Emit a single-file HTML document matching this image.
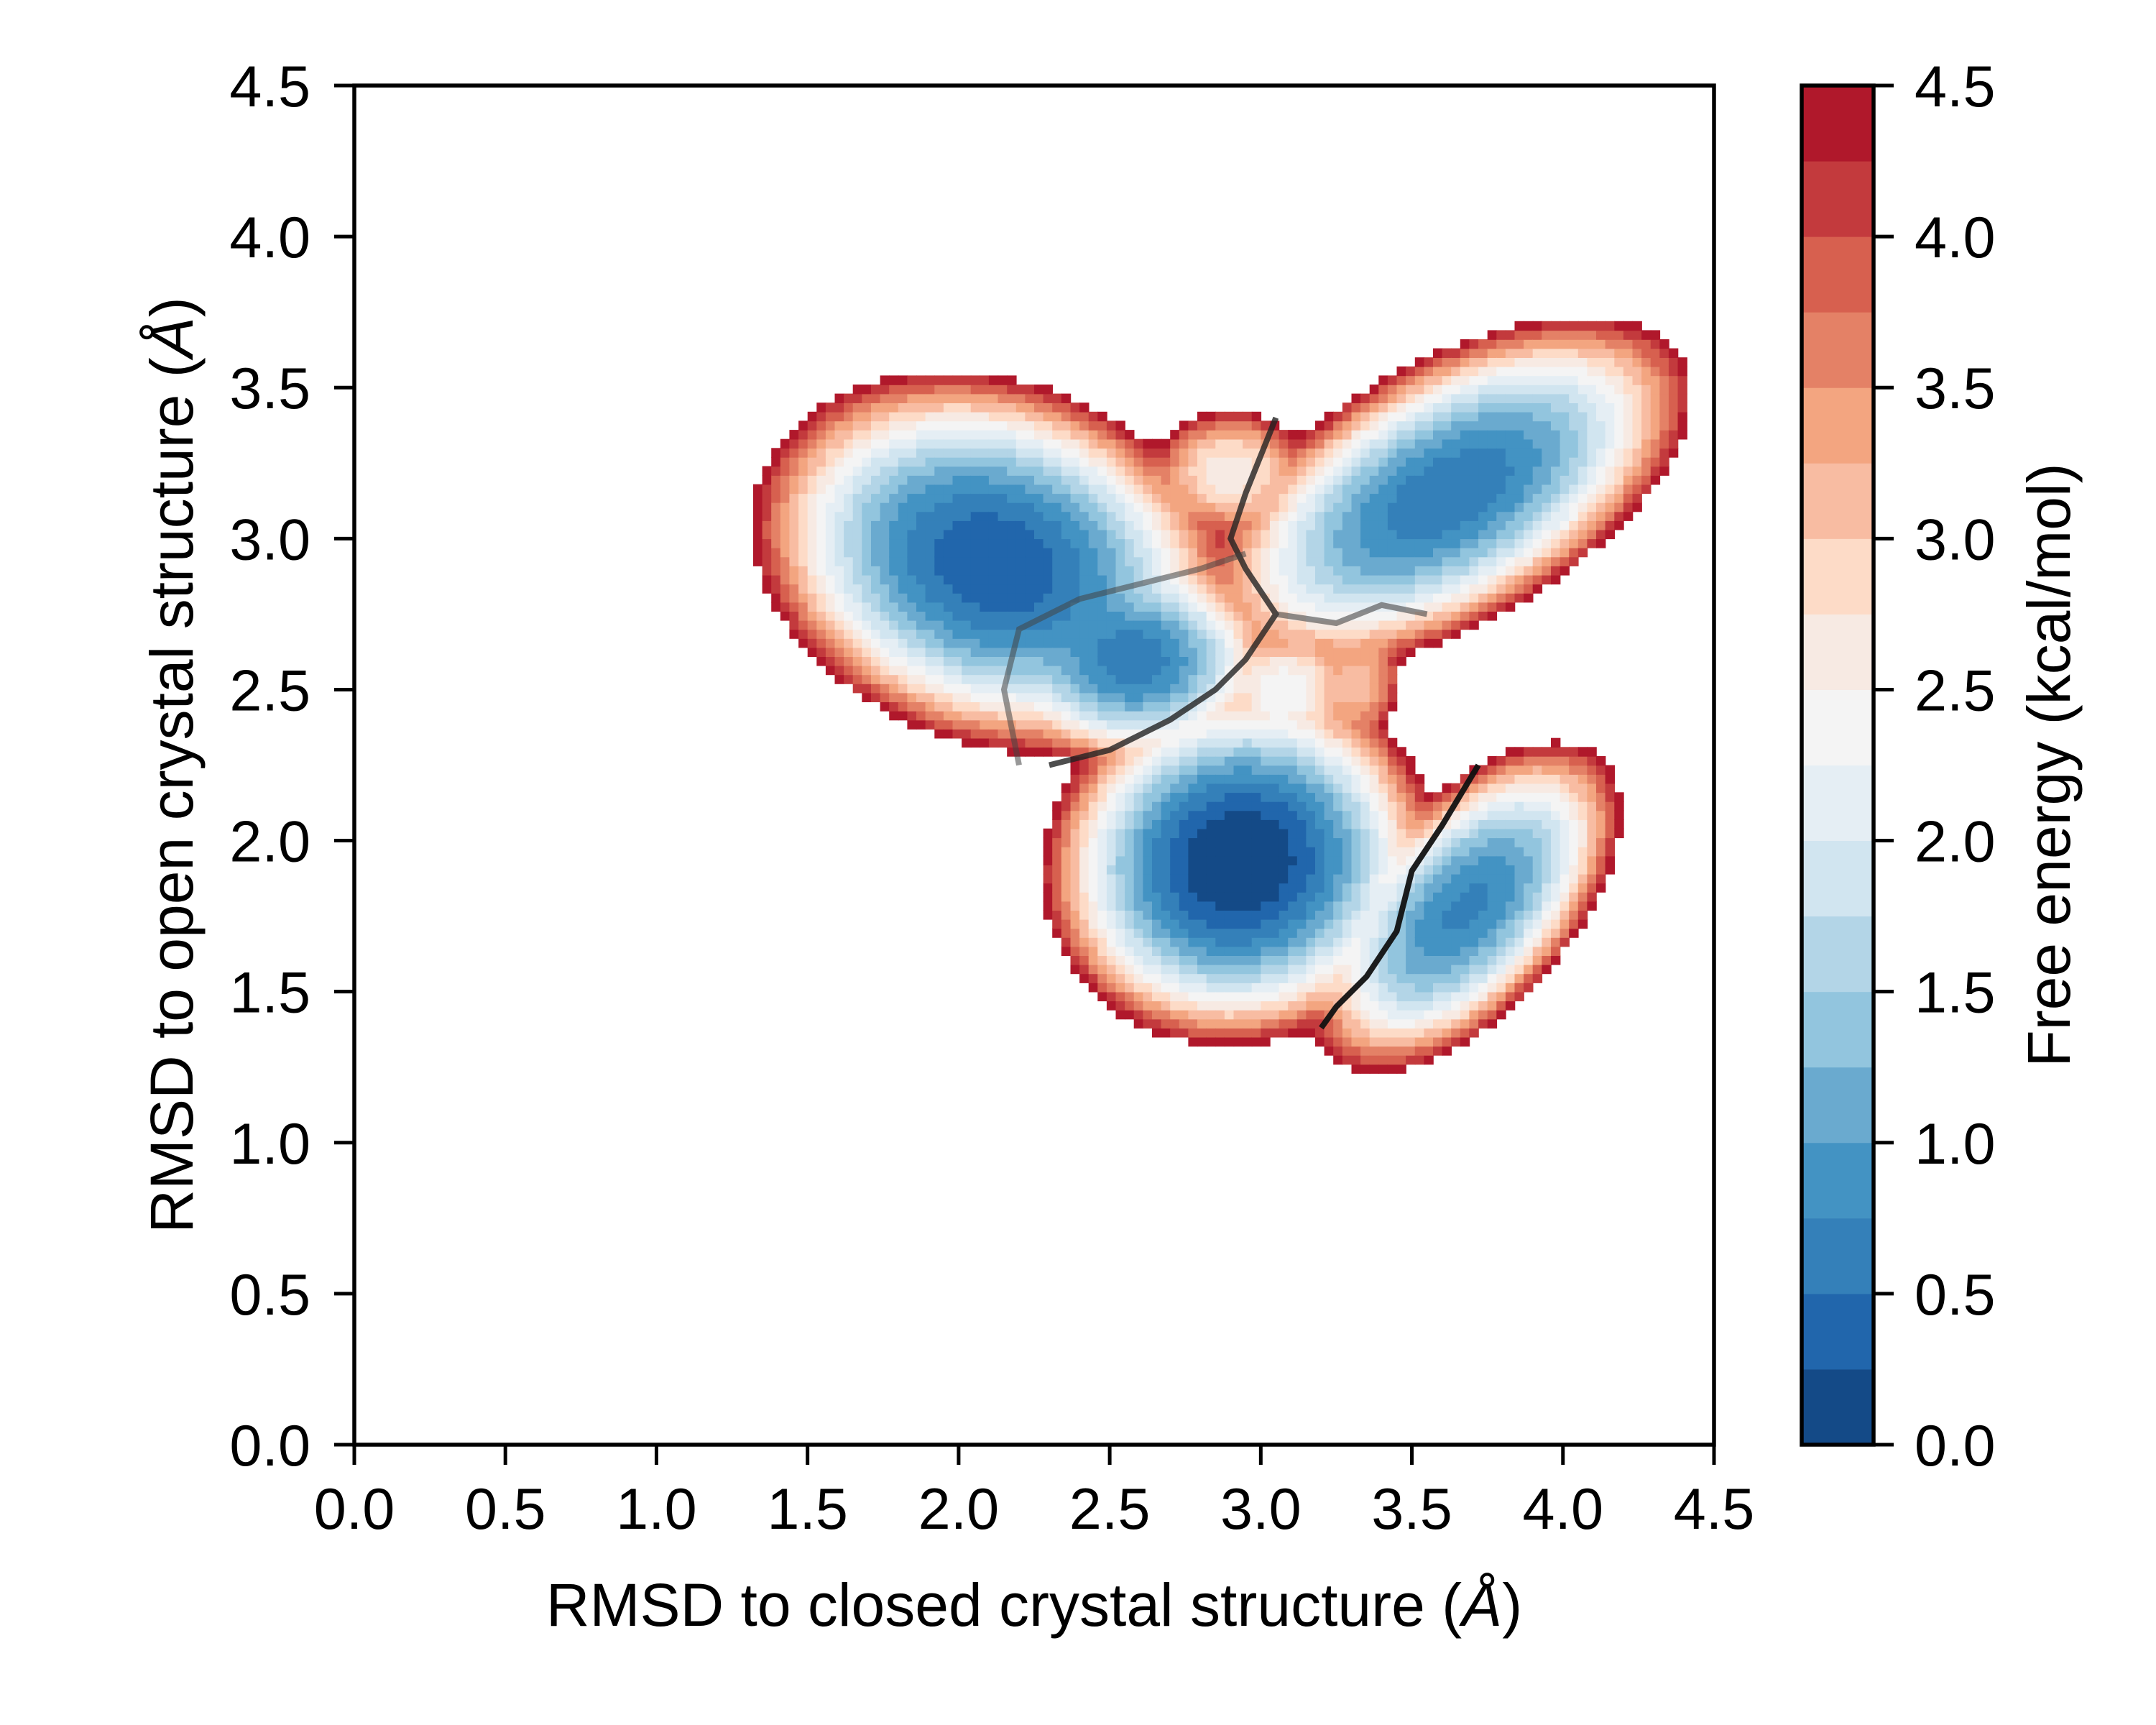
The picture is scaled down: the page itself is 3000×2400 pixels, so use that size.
<!DOCTYPE html>
<html><head><meta charset="utf-8"><style>
html,body{margin:0;padding:0;background:#fff}
svg{display:block;font-family:"Liberation Sans",Arial,sans-serif}
</style></head><body>
<svg id="chart" width="3000" height="2400" viewBox="0 0 3000 2400">
<g id="cells"></g>
<g id="bounds"></g>
<g id="axes"></g>
<g id="cbar"></g>
</svg>
<script>
// ---- data ----
const wellX     = [2.93, 2.12, 2.58, 3.62, 3.68, 2.90, 3.32, 3.08];
const wellY     = [1.93, 2.92, 2.60, 3.15, 1.78, 3.22, 2.52, 2.50];
const wellDepth = [0.00, 0.30, 0.60, 0.55, 0.70, 2.60, 3.10, 2.30];
const wellMajor = [0.66, 0.85, 0.50, 0.95, 0.72, 0.38, 0.32, 0.32];
const wellMinor = [0.60, 0.62, 0.38, 0.46, 0.37, 0.30, 0.24, 0.28];
const wellAngle = [20, -20, 0, 30, 48, 0, 80, 0];
const levels = [0,0.25,0.5,0.75,1,1.25,1.5,1.75,2,2.25,2.5,2.75,3,3.25,3.5,3.75,4,4.25,4.5];
const levelColors = ["#144a87","#2166ac","#3480b9","#4393c3","#6aaacf","#92c5de","#b3d5e7","#d1e5f0","#e5eef4","#f4f4f4","#f7eae3","#fddbc7","#f8bca2","#f3a580","#e48166","#d7604f","#c33a3d","#b0182b"];
const tickValues = [0,0.5,1,1.5,2,2.5,3,3.5,4,4.5];
const tickLabels = ["0.0","0.5","1.0","1.5","2.0","2.5","3.0","3.5","4.0","4.5"];
const boundary1X = [3.20,3.25,3.35,3.45,3.50,3.60,3.72];
const boundary1Y = [1.38,1.45,1.55,1.70,1.90,2.05,2.25];
const boundary2X = [2.30,2.50,2.70,2.85,2.95,3.05,2.95,2.90,2.95,3.05];
const boundary2Y = [2.25,2.30,2.40,2.50,2.60,2.75,2.90,3.00,3.15,3.40];
const boundary3X = [3.05,3.25,3.40,3.55];
const boundary3Y = [2.75,2.72,2.78,2.75];
const boundary4X = [2.20,2.15,2.20,2.40,2.60,2.80,2.95];
const boundary4Y = [2.25,2.50,2.70,2.80,2.85,2.90,2.95];

// ---- scales ----
const L=493,R=2385,T=119,B=2010;
const xS=v=>L+v/4.5*(R-L);
const yS=v=>B-v/4.5*(B-T);
const NS="http://www.w3.org/2000/svg";
function mk(tag,attrs,parent){const e=document.createElementNS(NS,tag);for(const k in attrs)e.setAttribute(k,attrs[k]);parent.appendChild(e);return e;}

function energy(x,y){
  let s=0;const Tk=0.4;
  for(let i=0;i<wellX.length;i++){
    const a=wellAngle[i]*Math.PI/180;
    const dx=x-wellX[i],dy=y-wellY[i];
    const u=(dx*Math.cos(a)+dy*Math.sin(a))/wellMajor[i];
    const w=(-dx*Math.sin(a)+dy*Math.cos(a))/wellMinor[i];
    const q=u*u+w*w;
    const f=wellDepth[i]+4.5*Math.pow(q,1.1);
    s+=Math.exp(-f/Tk);
  }
  return -Tk*Math.log(s+1e-300);
}
const cells=document.getElementById('cells');
const step=0.03;
for(let gx=0;gx<4.5;gx+=step){
  for(let gy=0;gy<4.5;gy+=step){
    const f=energy(gx+step/2,gy+step/2);
    if(f>=levels[levels.length-1])continue;
    let k=0;while(k<levelColors.length-1&&f>=levels[k+1])k++;
    const r=mk('rect',{x:xS(gx).toFixed(1),y:yS(gy+step).toFixed(1),width:(xS(step)-xS(0)+0.8).toFixed(1),height:(yS(0)-yS(step)+0.8).toFixed(1),fill:levelColors[k]},cells);
    
    
  }
}
const bounds=document.getElementById('bounds');
[[boundary1X,boundary1Y,"#111",0.95],[boundary2X,boundary2Y,"#222",0.8],[boundary3X,boundary3Y,"#444",0.6],[boundary4X,boundary4Y,"#444",0.55]].forEach((b,i)=>{
  const pts=b[0].map((v,j)=>xS(v).toFixed(1)+","+yS(b[1][j]).toFixed(1)).join(" ");
  const p=mk('polyline',{points:pts,fill:"none",stroke:b[2],"stroke-width":8,"stroke-opacity":b[3]},bounds);
  
  
});

// ---- axes ----
const ax=document.getElementById('axes');
const frame=mk('rect',{x:L,y:T,width:R-L,height:B-T,fill:"none",stroke:"#000","stroke-width":5.5},ax);


tickValues.forEach((v,i)=>{
  mk('line',{x1:xS(v),y1:B,x2:xS(v),y2:B+28,stroke:"#000","stroke-width":5},ax);
  const tx=mk('text',{x:xS(v),y:2127,"font-size":81,"text-anchor":"middle"},ax);
  tx.textContent=tickLabels[i];
  
  
  mk('line',{x1:L,y1:yS(v),x2:L-28,y2:yS(v),stroke:"#000","stroke-width":5},ax);
  const ty=mk('text',{x:432,y:yS(v)+29,"font-size":81,"text-anchor":"end"},ax);
  ty.textContent=tickLabels[i];
  
  
});
const xl=mk('text',{x:(L+R)/2,y:2262,"font-size":84,"text-anchor":"middle"},ax);
xl.innerHTML='RMSD to closed crystal structure (<tspan font-style="italic">Å</tspan>)';


const yl=mk('text',{x:0,y:0,"font-size":84,"text-anchor":"middle",transform:`translate(268,${(T+B)/2}) rotate(-90)`},ax);
yl.innerHTML='RMSD to open crystal structure (<tspan font-style="italic">Å</tspan>)';



// ---- colorbar ----
const cb=document.getElementById('cbar');
const CL=2507,CR=2607;
const cy=v=>B-v/4.5*(B-T);
levelColors.forEach((c,i)=>{
  const r=mk('rect',{x:CL,y:cy(levels[i+1]),width:CR-CL,height:cy(levels[i])-cy(levels[i+1])+0.5,fill:c},cb);
  
  
});
mk('rect',{x:CL,y:T,width:CR-CL,height:B-T,fill:"none",stroke:"#000","stroke-width":5.5},cb);
tickValues.forEach((v,i)=>{
  mk('line',{x1:CR,y1:cy(v),x2:CR+28,y2:cy(v),stroke:"#000","stroke-width":5},cb);
  const t=mk('text',{x:2664,y:cy(v)+29,"font-size":81},cb);
  t.textContent=tickLabels[i];
  
  
});
const cl=mk('text',{x:0,y:0,"font-size":84,"text-anchor":"middle",transform:`translate(2880,${(T+B)/2}) rotate(-90)`},cb);
cl.textContent='Free energy (kcal/mol)';


</script>
</body></html>
